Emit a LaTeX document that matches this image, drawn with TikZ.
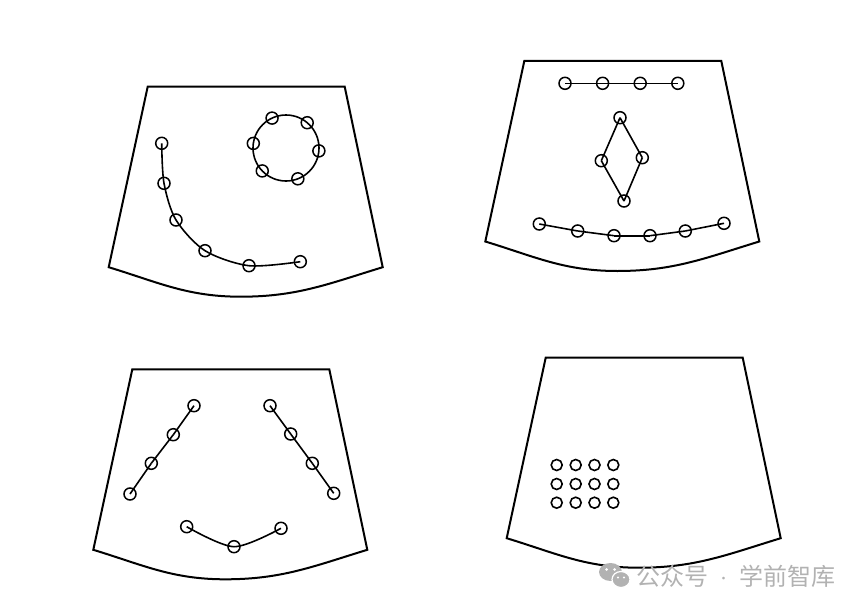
\documentclass[tikz,border=0pt]{standalone}
\usepackage{fontspec}
\newfontfamily\cjk{Noto Sans CJK SC}
\usetikzlibrary{positioning}
\definecolor{markgray}{RGB}{178,178,178}

\begin{document}
\begin{tikzpicture}[
x=1pt, y=-1pt,
probe/.style={draw=black, line width=2pt, line join=miter},
dot/.style={circle, draw=black, line width=1.5pt, minimum size=12pt, inner sep=0pt},
griddot/.style={circle, draw=black, line width=1.6pt, minimum size=11pt, inner sep=0pt},
link/.style={draw=black, line width=1.6pt},
node distance=24.1pt and 24.1pt
]
\useasboundingbox (0,0) rectangle (864,610);

%Outlines
\foreach \ox/\oy in {147.7/86.7, 524.3/61, 132.3/369.3, 545.7/357.7}
  \draw[probe, shift={(\ox,\oy)}] (0,0) -- (197,0) -- (235,180.5)
    to[out=197,in=0] (93,210) to[out=180,in=-17] (-39,180.5) -- cycle;

%Top left: curved chain and ring
\node[dot] (ch1) at (161.7,143.3) {};
\node[dot] (ch2) at (164,183.3) {};
\node[dot] (ch3) at (176,220) {};
\node[dot] (ch4) at (205,250.7) {};
\node[dot] (ch5) at (249,265.7) {};
\node[dot] (ch6) at (300.3,261.7) {};
\draw[link] plot[smooth] coordinates {(ch1.center) (ch2.center) (ch3.center) (ch4.center) (ch5.center) (ch6.center)};

\coordinate (rgc) at (286,148);
\draw[link] (rgc) circle[radius=33pt];
\foreach \a [count=\k] in {-115,-50,5,69,136,188}
  \node[dot] (rg\k) at ([shift={(\a:33)}]rgc) {};

%Top right: row, diamond, lower chain
\node[dot] (tp1) at (565,83.3) {};
\node[dot] (tp2) [right=of tp1] {};
\node[dot] (tp3) [right=of tp2] {};
\node[dot] (tp4) [right=of tp3] {};

\node[dot] (dt) at (620,117.7) {};
\node[dot] (dl) at (601.3,160.7) {};
\node[dot] (dr) at (642.3,157.7) {};
\node[dot] (db) at (624,201) {};

\node[dot] (bt1) at (539.3,224) {};
\node[dot] (bt2) at (577.7,231) {};
\node[dot] (bt3) at (614,235.7) {};
\node[dot] (bt4) at (650,235.7) {};
\node[dot] (bt5) at (685.3,231) {};
\node[dot] (bt6) at (724,223.3) {};

\foreach \i/\j in {tp1/tp2, tp2/tp3, tp3/tp4,
      dt/dl, dl/db, db/dr, dr/dt,
      bt1/bt2, bt2/bt3, bt3/bt4, bt4/bt5, bt5/bt6}
  \draw[link] (\i.center) -- (\j.center);

%Bottom left: two slanted chains and arc
\node[dot] (ll1) at (194,405.7) {};
\node[dot] (ll2) at (173.3,434.7) {};
\node[dot] (ll3) at (151.3,463.3) {};
\node[dot] (ll4) at (130,494) {};
\node[dot] (rr1) at (270,405.7) {};
\node[dot] (rr2) at (290.7,434) {};
\node[dot] (rr3) at (312.3,463.3) {};
\node[dot] (rr4) at (333.7,493.3) {};
\node[dot] (ar1) at (186.7,526.7) {};
\node[dot] (ar2) at (234,546.7) {};
\node[dot] (ar3) at (281,528.3) {};

\foreach \i/\j in {ll1/ll2, ll2/ll3, ll3/ll4, rr1/rr2, rr2/rr3, rr3/rr4}
  \draw[link] (\i.center) -- (\j.center);
\draw[link] plot[smooth] coordinates {(ar1.center) (ar2.center) (ar3.center)};

%Bottom right: grid of circles
\foreach \gx [count=\c] in {556.7,575.7,594.5,613.3}
  \foreach \gy [count=\r] in {465,484,502.7}
    \node[griddot] (g\c\r) at (\gx,\gy) {};

%Watermark
\fill[markgray] (610.5,572) ellipse[x radius=11.5, y radius=9];
\fill[markgray, draw=white, line width=1.2pt] (621,579.5) ellipse[x radius=9, y radius=8];
\fill[white] (606.5,569.5) circle[radius=1.5pt] (614.5,569.5) circle[radius=1.5pt]
  (618,577.5) circle[radius=1.2pt] (624,577.5) circle[radius=1.2pt];
\node[text=markgray, font=\cjk\fontsize{24}{24}\selectfont, anchor=west, inner sep=0pt] (mark) at (636,576) {公众号\hspace{9pt}{\fontsize{13}{13}\selectfont\raisebox{2pt}{·}}\hspace{9pt}学前智库};
\end{tikzpicture}
\end{document}
